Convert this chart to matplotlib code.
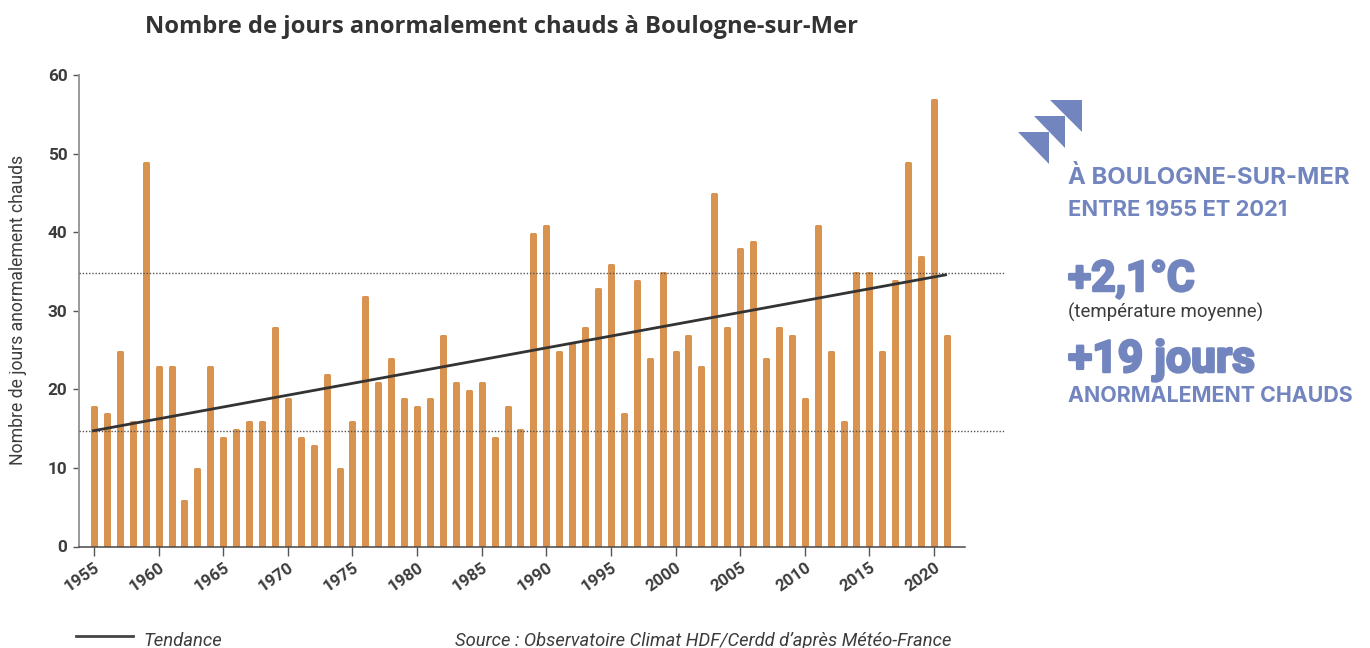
import numpy as np
import matplotlib
matplotlib.use("Agg")
import matplotlib.pyplot as plt
from matplotlib.patches import Polygon
import matplotlib.patheffects as pe

years = list(range(1955, 2022))
days = [18,17,25,16,49,23,23,6,10,23,14,15,16,16,28,19,14,13,22,10,16,32,21,24,19,18,19,27,21,20,21,14,18,15,40,41,25,26,28,33,36,17,34,24,35,25,27,23,45,28,38,39,24,28,27,19,41,25,16,35,35,25,34,49,37,57,27]
trend_years = [1954.85, 2021]
trend_values = [14.7, 34.6]
ref_levels = [14.7, 34.8]
y_ticks = [0, 10, 20, 30, 40, 50, 60]
x_ticks = list(range(1955, 2021, 5))

W, H = 1370, 648
DARK = "#3c3c3c"
BLUE = "#7285bf"
ORANGE = "#d99350"
fig = plt.figure(figsize=(W/100, H/100), dpi=100, facecolor="white")
plt.rcParams['font.family'] = ['Roboto', 'DejaVu Sans']
L, R, T, B = 79, 965, 75, 546.5
ax = fig.add_axes([L/W, 1-B/H, (R-L)/W, (B-T)/H])
pxx = 840/65
ax.set_xlim(1955-(94-L)/pxx, 1955+(R-94)/pxx)
ax.set_ylim(0, 60)
px = 72/100
edge = 3
off = (edge/2)/((B-T)/60)
ax.bar(years, np.array(days)-off, width=(7-edge)/pxx, color=ORANGE, edgecolor=ORANGE,
       linewidth=edge*px, joinstyle='round', zorder=2)
x_end = 1955+(1005-94)/pxx
for lv in ref_levels:
    ax.plot([ax.get_xlim()[0], x_end], [lv, lv], color="#555555", lw=1.0, ls=(0, (1, 1.3)), clip_on=False, zorder=3)
ax.plot(trend_years, trend_values, color="#333333", lw=2.0, zorder=4, solid_capstyle='butt')
for s in ("top", "right"):
    ax.spines[s].set_visible(False)
ax.spines["left"].set_color("#999999"); ax.spines["left"].set_linewidth(1.5*px*1.3)
ax.spines["bottom"].set_color("#444444"); ax.spines["bottom"].set_linewidth(1.5*px)
ax.set_yticks(y_ticks)
ax.set_xticks(x_ticks)
ax.tick_params(axis='y', length=6*px, width=1, color="#555555", pad=4, labelsize=12.4, labelcolor=DARK)
ax.tick_params(axis='x', length=9*px, width=1, color="#555555", pad=3, labelsize=12.2, labelcolor=DARK)
for t in ax.get_yticklabels():
    t.set_fontweight('bold')
for t in ax.get_xticklabels():
    t.set_fontweight('bold'); t.set_rotation(35); t.set_ha('right'); t.set_rotation_mode('anchor')

def txt(x, y, s, **kw):
    kw.setdefault('va', 'baseline')
    return fig.text(x/W, 1-y/H, s, **kw)

txt(18, 310, "Nombre de jours anormalement chauds", rotation=90, va='center', ha='center', fontsize=12.7, color=DARK)
txt(145, 33, "Nombre de jours anormalement chauds à Boulogne-sur-Mer", fontsize=17.1, fontweight='bold',
    family=['Open Sans', 'DejaVu Sans'], color="#333333")
txt(143.5, 646, "Tendance", fontsize=13.3, style='italic', color=DARK)
txt(455, 646, "Source : Observatoire Climat HDF/Cerdd d’après Météo-France", fontsize=13.25, style='italic', color=DARK)
fig.add_artist(plt.Line2D([76/W, 133/W], [1-636/H]*2, color="#444444", lw=2.0))

for tri in ([(1018,132.3),(1049.3,132.3),(1049.3,164)],
            [(1034,116.3),(1065.3,116.3),(1065.3,148.3)],
            [(1050,100.3),(1081.7,100.3),(1081.7,132.3)]):
    fig.add_artist(Polygon([(x/W, 1-y/H) for x, y in tri], closed=True, transform=fig.transFigure, color=BLUE, lw=0))

inter = ['Inter', 'DejaVu Sans']
txt(1068, 184, "À BOULOGNE-SUR-MER", fontsize=17.2, fontweight='bold', family=inter, color=BLUE)
txt(1068, 216, "ENTRE 1955 ET 2021", fontsize=15.8, fontweight='bold', family=inter, color=BLUE)
heavy = [pe.withStroke(linewidth=1.8, foreground=BLUE)]
txt(1068, 291, "+2,1°C", fontsize=30.6, fontweight='bold', color=BLUE, path_effects=heavy)
txt(1068, 318, "(température moyenne)", fontsize=13.4, color=DARK)
txt(1068, 372, "+19 jours", fontsize=32, fontweight='bold', color=BLUE, path_effects=heavy)
txt(1068, 402, "ANORMALEMENT CHAUDS", fontsize=15.4, fontweight='bold', family=inter, color=BLUE)
fig.savefig("out.png", dpi=100, facecolor="white")
